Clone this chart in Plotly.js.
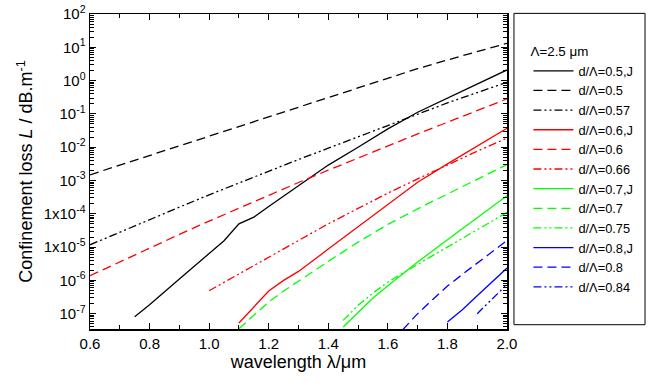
<!DOCTYPE html>
<html><head><meta charset="utf-8">
<script src="https://cdn.plot.ly/plotly-3.0.1.min.js"></script>
<style>html,body{margin:0;padding:0;background:#fff}#chart{width:650px;height:383px}</style>
</head><body><div id="chart"></div>
<script>
// wavelength (um) and confinement loss (dB/m)
const wl_05J   = [0.75,0.8,0.9,1.0,1.05,1.1,1.15,1.2,1.3,1.4,1.5,1.6,1.7,1.8,1.9,2.0];
const loss_05J = [8.1e-8,1.86e-7,1.1e-6,6.3e-6,1.55e-5,5.0e-5,7.9e-5,1.66e-4,7.1e-4,2.9e-3,1.0e-2,3.55e-2,0.112,0.295,0.776,2.09];

const wl_05   = [0.6,0.7,0.8,0.9,1.0,1.1,1.2,1.3,1.4,1.5,1.6,1.7,1.8,1.9,2.0];
const loss_05 = [1.48e-3,2.88e-3,5.62e-3,1.1e-2,2.19e-2,4.27e-2,8.32e-2,0.162,0.316,0.617,1.2,2.29,4.17,7.41,13.2];

const wl_057   = [0.6,0.7,0.8,0.9,1.0,1.1,1.2,1.3,1.4,1.5,1.6,1.7,1.8,1.9,2.0];
const loss_057 = [1.17e-5,2.82e-5,6.76e-5,1.58e-4,3.72e-4,8.51e-4,1.91e-3,4.27e-3,9.33e-3,2.04e-2,4.68e-2,0.102,0.214,0.437,0.891];

const wl_06J   = [1.1,1.15,1.2,1.25,1.3,1.4,1.5,1.6,1.7,1.8,1.9,2.0];
const loss_06J = [5.25e-8,1.62e-7,4.79e-7,1.0e-6,1.86e-6,8.7e-6,4.07e-5,1.91e-4,8.9e-4,3.16e-3,1.07e-2,3.72e-2];

const wl_06   = [0.6,0.7,0.8,0.9,1.0,1.1,1.2,1.3,1.4,1.5,1.6,1.7,1.8,1.9,2.0];
const loss_06 = [1.38e-6,3.63e-6,9.33e-6,2.4e-5,6.03e-5,1.48e-4,3.63e-4,8.71e-4,2.04e-3,4.79e-3,1.1e-2,2.51e-2,5.62e-2,0.126,0.282];

const wl_066   = [1.0,1.1,1.2,1.3,1.4,1.5,1.6,1.7,1.8,1.9,2.0];
const loss_066 = [4.9e-7,1.58e-6,5.0e-6,1.58e-5,5.0e-5,1.45e-4,4.17e-4,1.12e-3,2.95e-3,7.59e-3,1.86e-2];

const wl_07J   = [1.45,1.5,1.55,1.6,1.65,1.7,1.8,1.9,2.0];
const loss_07J = [3.98e-8,1.07e-7,2.95e-7,6.9e-7,1.58e-6,3.55e-6,1.66e-5,7.59e-5,3.47e-4];

const wl_07   = [1.1,1.15,1.2,1.25,1.3,1.4,1.5,1.6,1.7,1.8,1.9,2.0];
const loss_07 = [3.55e-8,8.9e-8,2.24e-7,4.79e-7,9.3e-7,3.72e-6,1.41e-5,4.79e-5,1.41e-4,3.98e-4,1.1e-3,3.02e-3];

const wl_075   = [1.45,1.5,1.55,1.6,1.7,1.8,1.9,2.0];
const loss_075 = [6.3e-8,1.78e-7,4.17e-7,8.9e-7,3.02e-6,1.0e-5,3.31e-5,1.1e-4];

const wl_08J   = [1.8,1.85,1.9,1.95,2.0];
const loss_08J = [5.6e-8,1.32e-7,3.47e-7,8.9e-7,2.34e-6];

const wl_08   = [1.65,1.7,1.75,1.8,1.85,1.9,1.95,2.0];
const loss_08 = [3.31e-8,1.0e-7,2.63e-7,6.76e-7,1.51e-6,3.24e-6,7.08e-6,1.58e-5];

const wl_084   = [1.9,1.95,2.0];
const loss_084 = [1.0e-7,2.82e-7,7.59e-7];

const seriesNames = ['d/Λ=0.5,J','d/Λ=0.5','d/Λ=0.57','d/Λ=0.6,J','d/Λ=0.6','d/Λ=0.66',
                     'd/Λ=0.7,J','d/Λ=0.7','d/Λ=0.75','d/Λ=0.8,J','d/Λ=0.8','d/Λ=0.84'];
const yTickVals = [1e2,1e1,1e0,1e-1,1e-2,1e-3,1e-4,1e-5,1e-6,1e-7];
const yTickText = ['10<sup>2</sup>','10<sup>1</sup>','10<sup>0</sup>','10<sup>-1</sup>','10<sup>-2</sup>',
                   '10<sup>-3</sup>','1x10<sup>-4</sup>','1x10<sup>-5</sup>','10<sup>-6</sup>','10<sup>-7</sup>'];

const SOLID = 'solid', DASH = '9px,5px', DDOT = '8px,3px,2px,3px,2px,3px';
const xs = [wl_05J,wl_05,wl_057,wl_06J,wl_06,wl_066,wl_07J,wl_07,wl_075,wl_08J,wl_08,wl_084];
const ys = [loss_05J,loss_05,loss_057,loss_06J,loss_06,loss_066,loss_07J,loss_07,loss_075,loss_08J,loss_08,loss_084];
const cols = ['#000000','#000000','#000000','#ff0000','#ff0000','#ff0000','#00ff00','#00ff00','#00ff00','#0000ff','#0000ff','#0000ff'];
const dashes = [SOLID,DASH,DDOT,SOLID,DASH,DDOT,SOLID,DASH,DDOT,SOLID,DASH,DDOT];

const data = xs.map((x,i)=>({
  x:x, y:ys[i], type:'scatter', mode:'lines', name:seriesNames[i],
  line:{color:cols[i], width:1.3, dash:dashes[i]}
}));

const font = {family:'"Liberation Sans", Arial, sans-serif', color:'#000'};
const layout = {
  width:650, height:383,
  margin:{l:90, r:140, t:14, b:54, pad:0},
  paper_bgcolor:'#fff', plot_bgcolor:'#fff',
  font:Object.assign({size:15}, font),
  showlegend:true,
  xaxis:{
    range:[0.6,2.0], tick0:0.6, dtick:0.2, tickformat:'.1f',
    ticks:'inside', ticklen:6, tickwidth:1, tickcolor:'#000',
    showline:true, linecolor:'#000', linewidth:1.5, mirror:'allticks',
    showgrid:false, zeroline:false,
    minor:{dtick:0.1, tick0:0.6, ticks:'inside', ticklen:4, tickcolor:'#000', showgrid:false},
    tickfont:Object.assign({size:15}, font),
    title:{text:'wavelength λ/μm', font:Object.assign({size:18}, font), standoff:5}
  },
  yaxis:{
    type:'log', range:[-7.46,2],
    tickmode:'array', tickvals:yTickVals, ticktext:yTickText,
    ticks:'inside', ticklen:6, tickwidth:1, tickcolor:'#000',
    showline:true, linecolor:'#000', linewidth:1.5, mirror:'allticks',
    showgrid:false, zeroline:false,
    minor:{dtick:'D1', ticks:'inside', ticklen:4, tickcolor:'#000', showgrid:false},
    tickfont:Object.assign({size:15}, font),
    title:{text:'Confinement loss <i>L</i> / dB.m<sup>-1</sup>', font:Object.assign({size:18}, font), standoff:6}
  },
  legend:{
    x:1.0514, xanchor:'left', y:0.922, yanchor:'top',
    bgcolor:'rgba(0,0,0,0)', borderwidth:0,
    font:Object.assign({size:12.8}, font),
    title:{text:'Λ=2.5 μm', font:Object.assign({size:13.4}, font)},
    itemwidth:40, tracegroupgap:0
  },
  shapes:[{
    type:'rect', xref:'paper', yref:'paper',
    x0:1.0167, x1:1.331, y0:0.0136, y1:1.002,
    line:{color:'#000', width:1}, fillcolor:'rgba(0,0,0,0)', layer:'above'
  }]
};

Plotly.newPlot('chart', data, layout, {displayModeBar:false, staticPlot:true});
</script>
</body></html>
